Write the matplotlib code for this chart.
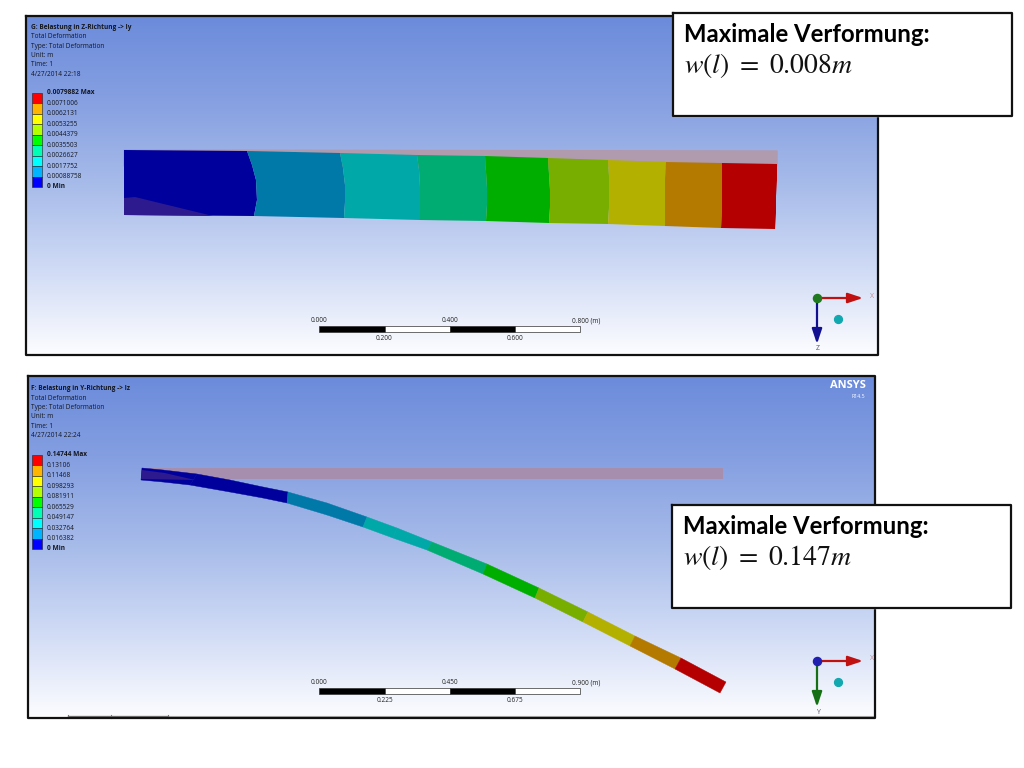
import numpy as np
import matplotlib
matplotlib.use("Agg")
import matplotlib.pyplot as plt
from matplotlib.colors import to_rgb

# contour colours, low to high
band_colors = ["#0000ff", "#00b4ff", "#00ffff", "#00ffb4", "#00ff00",
               "#b4ff00", "#ffff00", "#ffb400", "#ff0000"]
beam_colors = ["#00009c", "#0078a8", "#00a8a8", "#00ac72", "#00ae00",
               "#78ae00", "#b4b000", "#b47a00", "#b40000"]

# upper beam, boundaries between bands, top edge to bottom edge, pixels
upper_x = [[124, 124, 124, 124, 124], [247, 252, 256, 257, 254], [340, 343, 345, 345, 344],
           [417, 419, 420, 420, 420], [485, 486, 487, 487, 486], [548, 549, 550, 550, 549],
           [608, 609, 609, 609, 608], [666, 665, 665, 665, 665], [722, 722, 722, 722, 721],
           [777, 777, 776, 776, 775]]
upper_y = [[150, 166, 182, 199, 215], [151, 165, 180, 200, 216], [153, 168, 185, 202, 218],
           [155, 170, 187, 204, 220], [156, 172, 188, 205, 221], [158, 174, 190, 207, 223],
           [160, 176, 192, 208, 224], [162, 178, 194, 210, 226], [163, 179, 195, 212, 228],
           [164, 180, 196, 213, 229]]
upper_ghost_x = [124, 777, 777, 124]
upper_ghost_y = [150, 151, 166, 166]
upper_patch_x = [124, 135, 213, 124]
upper_patch_y = [198, 197, 216, 215]

# lower beam, stations along the bent shape (top and bottom edge)
lower_top_x = [142, 163, 197, 230, 263, 288, 327, 367, 397, 432, 487, 539, 588, 635, 681, 726]
lower_top_y = [468, 470, 474, 480, 487, 492, 503, 517, 528, 542, 564, 588, 612, 636, 658, 682]
lower_bot_x = [141, 163, 190, 230, 263, 287, 327, 363, 393, 427, 483, 535, 583, 630, 675, 720]
lower_bot_y = [480, 482, 485, 492, 498, 503, 515, 527, 538, 550, 574, 598, 622, 646, 669, 693]
lower_bands = [0, 0, 0, 0, 0, 1, 1, 2, 2, 3, 4, 5, 6, 7, 8]
lower_ghost_x = [141, 723, 723, 141]
lower_ghost_y = [468, 468, 479, 479]
lower_patch_x = [142, 165, 195, 141]
lower_patch_y = [470, 473, 480, 479]

# legend labels, top to bottom
upper_labels = ["0.0079882 Max", "0.0071006", "0.0062131", "0.0053255", "0.0044379",
                "0.0035503", "0.0026627", "0.0017752", "0.00088758", "0 Min"]
lower_labels = ["0.14744 Max", "0.13106", "0.11468", "0.098293", "0.081911",
                "0.065529", "0.049147", "0.032764", "0.016382", "0 Min"]
upper_header = ["G: Belastung in Z-Richtung -> Iy", "Total Deformation", "Type: Total Deformation",
                "Unit: m", "Time: 1", "4/27/2014 22:18"]
lower_header = ["F: Belastung in Y-Richtung -> Iz", "Total Deformation", "Type: Total Deformation",
                "Unit: m", "Time: 1", "4/27/2014 22:24"]
upper_scale = ["0.000", "0.200", "0.400", "0.600", "0.800 (m)"]
lower_scale = ["0.000", "0.225", "0.450", "0.675", "0.900 (m)"]
scale_x = [319, 384.5, 449.5, 515, 580]

grad_pos = [0, 0.25, 0.5, 0.75, 1]
grad_colors = ["#6b8bdb", "#86a0e1", "#a8bcea", "#d0dbf5", "#fdfdff"]

plt.rcParams["font.family"] = ["Open Sans", "DejaVu Sans"]
plt.rcParams["mathtext.fontset"] = "stix"

fig = plt.figure(figsize=(10.24, 7.68), dpi=100)
ax = fig.add_axes([0, 0, 1, 1])
text_dark = "#14171f"


def panel(x0, y0, x1, y1):
    rows = np.linspace(0, 1, 256)
    rgb = np.array([to_rgb(c) for c in grad_colors])
    img = np.stack([np.interp(rows, grad_pos, rgb[:, i]) for i in range(3)], axis=1)
    ax.imshow(img[:, None, :], extent=(x0, x1, y1, y0), aspect="auto", zorder=1)
    ax.plot([x0, x1, x1, x0, x0], [y0, y0, y1, y1, y0], color="#111111", lw=1.6, zorder=6)


def legend(x, y_first, y_last, header, labels, y_header):
    for i, line in enumerate(header):
        ax.text(31, y_header + i * 9.3, line, fontsize=4.7, color=text_dark, va="center",
                fontweight="bold" if i == 0 else "normal", zorder=5)
    ys = np.linspace(y_first, y_last, len(labels))
    for i in range(len(band_colors)):
        ax.fill([x, x + 10, x + 10, x], [ys[i], ys[i], ys[i + 1], ys[i + 1]],
                color=band_colors[::-1][i], ec="#222222", lw=0.4, zorder=3)
    for i, lab in enumerate(labels):
        bold = i == 0 or i == len(labels) - 1
        ax.text(x + 15, ys[i], lab, fontsize=4.7, color=text_dark, va="center",
                fontweight="bold" if bold else "normal", zorder=5)


def scale_bar(y, labels):
    for i in range(4):
        col = "black" if i % 2 == 0 else "white"
        ax.fill([scale_x[i], scale_x[i + 1], scale_x[i + 1], scale_x[i]], [y, y, y + 6, y + 6],
                color=col, ec="#333333", lw=0.5, zorder=3)
    for i, lab in enumerate(labels):
        if i % 2 == 0:
            ax.text(scale_x[i] + (6 if i == 4 else 0), y - 5, lab, fontsize=4.7, color="#222222",
                    ha="center", va="center", zorder=5)
        else:
            ax.text(scale_x[i], y + 13, lab, fontsize=4.7, color="#222222",
                    ha="center", va="center", zorder=5)


def triad(x, y, ball, down, letter):
    ax.annotate("", xy=(x + 46, y), xytext=(x, y), zorder=4,
                arrowprops=dict(arrowstyle="-|>,head_width=0.3,head_length=0.9", color="#c01010",
                                lw=1.6, shrinkA=0, shrinkB=0))
    ax.annotate("", xy=(x, y + 46), xytext=(x, y), zorder=4,
                arrowprops=dict(arrowstyle="-|>,head_width=0.3,head_length=0.9", color=down,
                                lw=1.6, shrinkA=0, shrinkB=0))
    ax.scatter([x], [y], s=34, color=ball, zorder=5)
    ax.scatter([x + 21], [y + 21], s=32, color="#12a8b0", zorder=5)
    ax.text(x + 55, y - 2, "X", fontsize=5, color="#c08a90", ha="center", va="center", zorder=5)
    ax.text(x + 1, y + 51, letter, fontsize=5, color="#555566", ha="center", va="center", zorder=5)


def callout(x0, y0, x1, y1, formula):
    ax.fill([x0, x1, x1, x0], [y0, y0, y1, y1], color="white", zorder=7)
    ax.plot([x0, x1, x1, x0, x0], [y0, y0, y1, y1, y0], color="#111111", lw=1.6, zorder=8)
    ax.text(x0 + 11, y0 + 22, "Maximale Verformung:", family="Lato", fontweight="bold",
            fontsize=17.2, color="black", va="center", zorder=9)
    ax.text(x0 + 11, y0 + 53, formula, fontsize=20, color="#111111", va="center", zorder=9)


panel(26, 16, 878, 355)
panel(28, 376, 875, 718)

# upper beam
ax.fill(upper_ghost_x, upper_ghost_y, color="#b09aae", zorder=2)
for i in range(len(upper_x) - 1):
    ax.fill(upper_x[i] + upper_x[i + 1][::-1], upper_y[i] + upper_y[i + 1][::-1],
            color=beam_colors[i], lw=0, zorder=3)
ax.fill(upper_patch_x, upper_patch_y, color="#2c1a8e", lw=0, zorder=3)

# lower beam
ax.fill(lower_ghost_x, lower_ghost_y, color="#a68fae", lw=0, zorder=2)
for i, band in enumerate(lower_bands):
    ax.fill([lower_top_x[i], lower_top_x[i + 1], lower_bot_x[i + 1], lower_bot_x[i]],
            [lower_top_y[i], lower_top_y[i + 1], lower_bot_y[i + 1], lower_bot_y[i]],
            color=beam_colors[band], ec=beam_colors[band], lw=0.3, zorder=3)
ax.fill(lower_patch_x, lower_patch_y, color="#2c1a8e", lw=0, zorder=3)

legend(32, 93, 187, upper_header, upper_labels, 27.5)
legend(32, 455, 549, lower_header, lower_labels, 389)
scale_bar(326, upper_scale)
scale_bar(688, lower_scale)
triad(817, 298, "#1f7a1f", "#101090", "Z")
triad(817, 661, "#2020b0", "#157015", "Y")

ax.text(848, 385, "ANSYS", fontsize=8, fontweight="bold", color="white", ha="center", va="center", zorder=5)
ax.text(858, 396, "R14.5", fontsize=3.8, color="white", ha="center", va="center", zorder=5)

# small tabs at the bottom edge of the lower view
ax.plot([68, 875], [716, 716], color="#b0b0b0", lw=0.8, zorder=5)
ax.plot([68, 168], [716, 716], color="#777777", lw=0.9, zorder=5)
ax.plot([68, 68], [715, 718], color="#777777", lw=0.8, zorder=5)
ax.plot([111, 111], [715, 718], color="#777777", lw=0.8, zorder=5)
ax.plot([168, 168], [715, 718], color="#777777", lw=0.8, zorder=5)

callout(673, 13, 1012, 116, r"$w(l)\ =\ 0.008m$")
callout(672, 505, 1011, 608, r"$w(l)\ =\ 0.147m$")

ax.set_xlim(0, 1024)
ax.set_ylim(768, 0)
ax.axis("off")
fig.savefig("out.png", dpi=100)
